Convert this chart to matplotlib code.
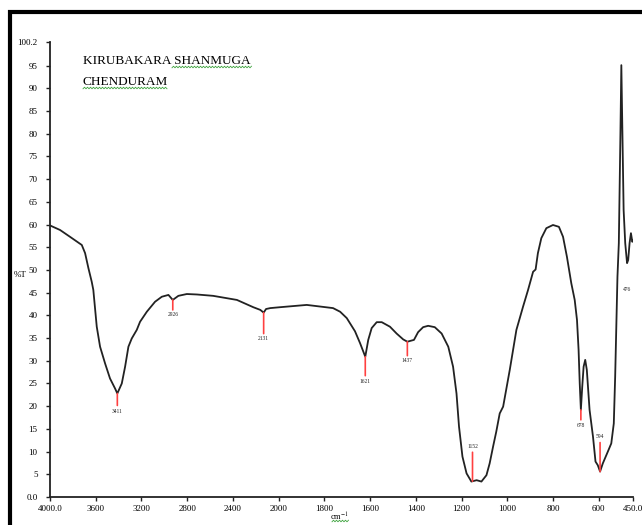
import numpy as np
import matplotlib
matplotlib.use("Agg")
import matplotlib.pyplot as plt
from matplotlib.lines import Line2D
from matplotlib.patches import Rectangle

plt.rcParams['font.family'] = ['Liberation Serif', 'DejaVu Serif']
plt.rcParams['mathtext.fontset'] = 'stix'

# FTIR spectrum (wavenumber cm-1, %T)
wavenumber = [4000, 3912, 3825, 3722, 3693, 3664, 3635, 3621, 3591, 3562,
              3518, 3475, 3431, 3411, 3372, 3343, 3314, 3285, 3241, 3212,
              3153, 3081, 3022, 2964, 2926, 2877, 2803, 2716, 2573, 2365,
              2222, 2160, 2131, 2110, 2073, 1993, 1877, 1762, 1731, 1702,
              1666, 1644, 1621, 1608, 1593, 1571, 1549, 1513, 1484, 1455,
              1437, 1408, 1390, 1368, 1346, 1317, 1287, 1258, 1237, 1222,
              1211, 1196, 1178, 1157, 1134, 1113, 1091, 1077, 1062, 1048,
              1033, 1018, 989, 960, 931, 909, 887, 876, 866, 851,
              829, 800, 774, 756, 739, 720, 705, 695, 688, 683,
              678, 672, 666, 659, 652, 640, 625, 614, 604, 594,
              582, 560, 545, 534, 528, 523, 518, 512, 505, 501,
              491, 484, 476, 471, 465, 459, 453, 450]
transmittance = [59.8, 58.8, 57.3, 55.5, 53.7, 50.4, 47.4, 45.6, 37.5, 33.1,
                 29.4, 26.1, 23.9, 22.8, 25.0, 28.7, 33.1, 34.9, 36.8, 38.6,
                 40.8, 43.0, 44.1, 44.5, 43.4, 44.3, 44.7, 44.6, 44.3, 43.4,
                 41.8, 41.2, 40.6, 41.4, 41.6, 41.8, 42.3, 41.6, 40.8, 39.4,
                 36.5, 33.9, 30.9, 34.6, 37.2, 38.5, 38.5, 37.5, 36.0, 34.7,
                 34.2, 34.6, 36.3, 37.4, 37.7, 37.4, 36.0, 33.1, 28.7, 22.8,
                 15.5, 8.9, 5.2, 3.4, 3.7, 3.4, 4.8, 7.4, 11.1, 14.4,
                 18.4, 19.9, 28.0, 36.8, 41.9, 45.6, 49.6, 50.1, 53.7, 57.0,
                 59.2, 59.9, 59.5, 57.3, 52.9, 47.1, 43.4, 39.0, 32.4, 25.0,
                 19.2, 24.3, 28.7, 30.2, 28.0, 19.2, 13.3, 7.8, 7.0, 5.6,
                 7.4, 10.0, 11.8, 16.2, 26.5, 37.5, 48.5, 55.9, 80.0, 95.1,
                 63.2, 55.9, 51.5, 52.2, 55.9, 58.1, 56.2, 56.5]

peak_wn = [3411, 2926, 2131, 1621, 1437, 1152, 678, 594, 476]
peak_labels = [str(p) for p in peak_wn]

x_ticks = [4000, 3600, 3200, 2800, 2400, 2000, 1800, 1600, 1400, 1200, 1000, 800, 600, 450]
x_ticklabels = ['4000.0', '3600', '3200', '2800', '2400', '2000', '1800', '1600',
                '1400', '1200', '1000', '800', '600', '450.0']
y_ticks = [0, 5, 10, 15, 20, 25, 30, 35, 40, 45, 50, 55, 60, 65, 70, 75, 80, 85, 90, 95, 100.2]
y_ticklabels = ['0.0'] + [str(v) for v in y_ticks[1:-1]] + ['100.2']

W, H = 642, 525
fig = plt.figure(figsize=(W / 100, H / 100), dpi=100)
ax = fig.add_axes([50 / W, 1 - 497 / H, 583 / W, 455 / H])


# spectrometer style axis: region below 2000 cm-1 stretched x2
def fwd(x):
    x = np.asarray(x, dtype=float)
    return np.where(x <= 2000, x, 2000 + (x - 2000) / 2)


def inv(p):
    p = np.asarray(p, dtype=float)
    return np.where(p <= 2000, p, 2000 + 2 * (p - 2000))


ax.set_xscale('function', functions=(fwd, inv))
ax.plot(wavenumber, transmittance, color='#222222', lw=1.3, solid_joinstyle='round')
ax.set_xlim(4000, 450)
ax.set_ylim(0, 100.2)

# red peak markers (length in px, + = downward)
mark_len = [12, 10, 21, 19, 14, -29, 10, -29, 0]
label_gap = [6, 5, 5, 6, 5, -6, 6, -6, 26]
wn_rev = np.array(wavenumber[::-1])
t_rev = np.array(transmittance[::-1])
for p, lab, ln, gap in zip(peak_wn, peak_labels, mark_len, label_gap):
    tip = np.interp(p, wn_rev, t_rev)
    if ln != 0:
        ax.annotate('', xy=(p, tip), xytext=(0, -ln * 0.72), textcoords='offset points',
                    arrowprops=dict(arrowstyle='-', color='#ff4040', lw=1.2,
                                    shrinkA=0, shrinkB=0))
    ax.annotate(lab, xy=(p, tip), xytext=(0, -(ln + gap) * 0.72), textcoords='offset points',
                ha='center', va='center', fontsize=4, color='#222222')

ax.set_xticks(x_ticks)
ax.set_xticklabels(x_ticklabels)
ax.set_yticks(y_ticks)
ax.set_yticklabels(y_ticklabels)
ax.xaxis.set_minor_locator(plt.NullLocator())
ax.tick_params(axis='both', labelsize=6.5, length=3, width=1, color='#222222', pad=3)
ax.tick_params(axis='y', pad=6)
for s in ['top', 'right']:
    ax.spines[s].set_visible(False)
for s in ['left', 'bottom']:
    ax.spines[s].set_linewidth(1.3)
    ax.spines[s].set_color('#222222')

ax.set_ylabel('%T', rotation=0, fontsize=6.5, ha='center', va='center')
ax.yaxis.set_label_coords(-0.051, 0.488)
ax.set_xlabel('cm$^{-1}$', fontsize=6, va='center')
ax.xaxis.set_label_coords(0.497, -0.044)

# sample name
fig.text(83 / W, 1 - 64 / H, 'KIRUBAKARA SHANMUGA', fontsize=9.5, va='baseline')
fig.text(83 / W, 1 - 85 / H, 'CHENDURAM', fontsize=9.5, va='baseline')


def squiggle(x0, x1, y):
    xs = np.arange(x0, x1, 1.5)
    ys = y + 0.8 * (-1) ** np.arange(len(xs))
    fig.add_artist(Line2D(xs / W, 1 - ys / H, color='#3fa33f', lw=0.6))


squiggle(172, 252, 67)
squiggle(83, 168, 88)
squiggle(332, 350, 521)

# thick page frame (left and top edges visible)
fig.add_artist(Rectangle((10 / W, -0.5), 2, 1.5 - 12 / H, transform=fig.transFigure,
                         fill=False, lw=3, edgecolor='black'))

fig.savefig('out.png', dpi=100)
